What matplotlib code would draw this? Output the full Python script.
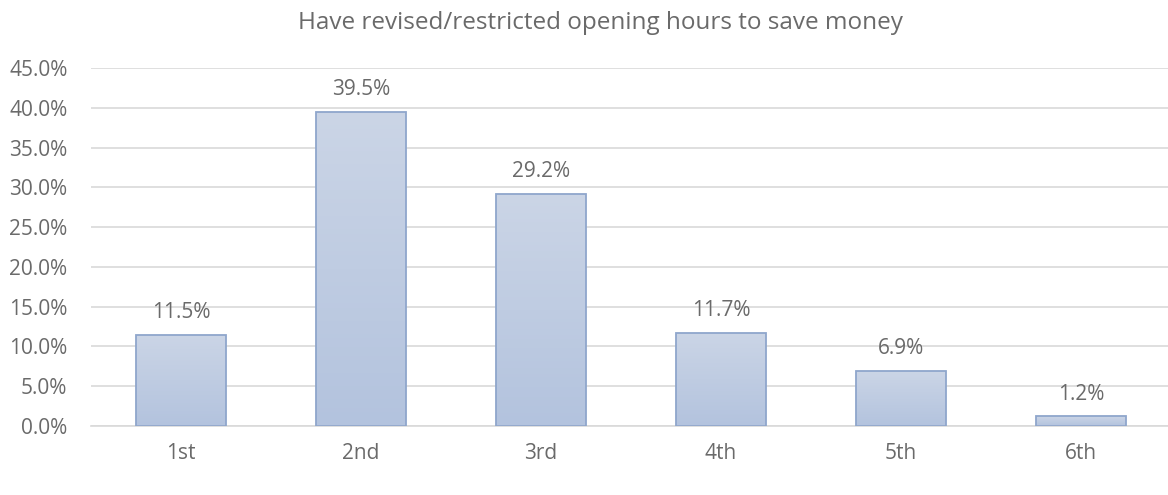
import numpy as np
import matplotlib.pyplot as plt
from matplotlib.ticker import FuncFormatter
from matplotlib.colors import LinearSegmentedColormap

categories = ["1st", "2nd", "3rd", "4th", "5th", "6th"]
values = [11.5, 39.5, 29.2, 11.7, 6.9, 1.2]
title = "Have revised/restricted opening hours to save money"

plt.rcParams['font.family'] = ['Open Sans', 'DejaVu Sans']
grey = "#6a6a6a"

fig = plt.figure(figsize=(11.68, 4.95), dpi=100)
ax = fig.add_axes([91 / 1168, 1 - 426 / 495, 1080 / 1168, 358 / 495])

x = np.arange(len(categories))
bars = ax.bar(x, values, width=0.5, facecolor="none", edgecolor="#8fa6cc", linewidth=1.3, zorder=3)

# vertical gradient fill, lighter at top
grad = np.linspace(0, 1, 256).reshape(-1, 1)
cmap = LinearSegmentedColormap.from_list("g", ["#b3c3de", "#cbd5e6"])
for b in bars:
    x0, y0 = b.get_x(), b.get_y()
    im = ax.imshow(grad, extent=[x0, x0 + b.get_width(), y0, y0 + b.get_height()],
                   origin="lower", aspect="auto", cmap=cmap, zorder=2)
    im.set_clip_path(b)

for xi, v in zip(x, values):
    ax.annotate(f"{v:.1f}%", (xi, v), xytext=(0, 16), textcoords="offset points",
                ha="center", va="center", color=grey, fontsize=15)

ax.set_xlim(-0.5, 5.5)
ax.set_ylim(0, 45)
ax.set_yticks(np.arange(0, 46, 5))
ax.yaxis.set_major_formatter(FuncFormatter(lambda v, p: f"{v:.1f}%"))
ax.set_xticks(x)
ax.set_xticklabels(categories)
ax.grid(axis="y", color="#d9d9d9", linewidth=1.2, zorder=0)
ax.set_axisbelow(True)
for s in ["top", "right", "left"]:
    ax.spines[s].set_visible(False)
ax.spines["bottom"].set_color("#d9d9d9")
ax.spines["bottom"].set_linewidth(1.2)
ax.tick_params(length=0, colors=grey, labelsize=15)
ax.tick_params(axis="x", pad=12)
ax.tick_params(axis="y", pad=17)

fig.text(600 / 1168, 1 - 23 / 495, title, ha="center", va="center", color=grey, fontsize=17.5)

fig.savefig("out.png", dpi=100)
